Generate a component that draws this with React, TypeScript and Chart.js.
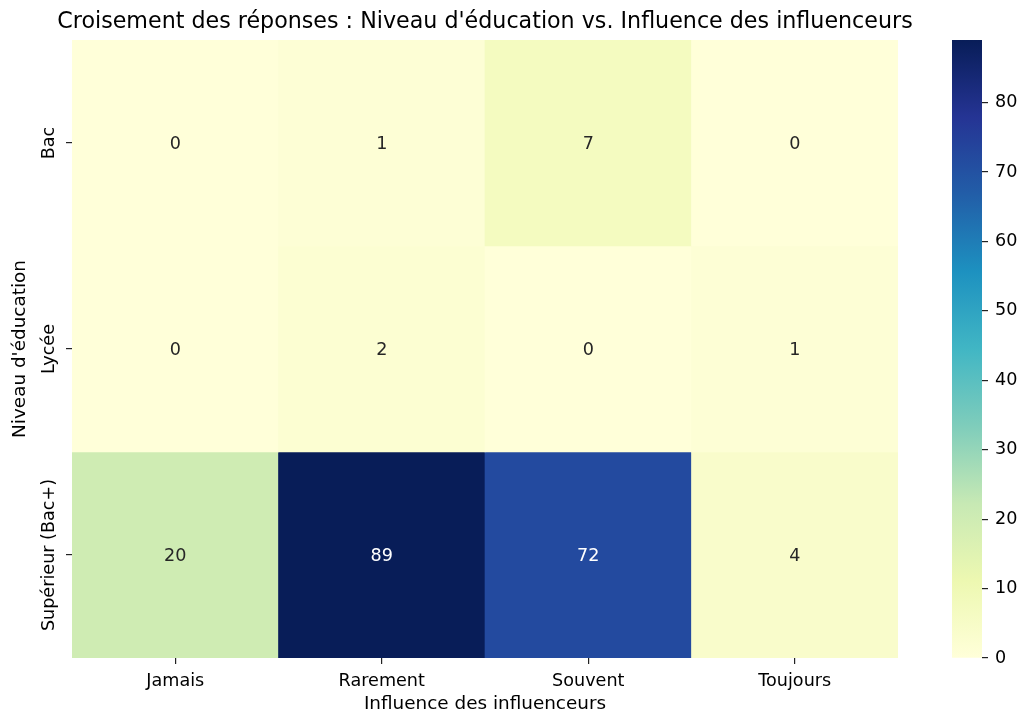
import React, { useEffect, useRef } from "react";
import { Chart, registerables } from "chart.js";

Chart.register(...registerables);

// ---- Data ----
const columns = ["Jamais", "Rarement", "Souvent", "Toujours"];
const rows = ["Bac", "Lycée", "Supérieur (Bac+)"];
const bacValues = [0, 1, 7, 0];
const lyceeValues = [0, 2, 0, 1];
const superieurValues = [20, 89, 72, 4];
const colorbarTicks = [0, 10, 20, 30, 40, 50, 60, 70, 80];
const vmin = 0;
const vmax = 89;

const titleText = "Croisement des réponses : Niveau d'éducation vs. Influence des influenceurs";
const xTitle = "Influence des influenceurs";
const yTitle = "Niveau d'éducation";

// YlGnBu colormap (ColorBrewer 9-class)
const palette = ["#ffffd9", "#edf8b1", "#c7e9b4", "#7fcdbb", "#41b6c4", "#1d91c0", "#225ea8", "#253494", "#081d58"];

const FONT = "'DejaVu Sans', sans-serif";
const FS = 17.6;
const FS_AXIS = 18.4;
const FS_TITLE = 22.2;

function hexToRgb(h: string): number[] {
  const n = parseInt(h.slice(1), 16);
  return [(n >> 16) & 255, (n >> 8) & 255, n & 255];
}

function colorRgb(v: number): number[] {
  let t = (v - vmin) / (vmax - vmin);
  t = Math.max(0, Math.min(1, t));
  const pos = t * (palette.length - 1);
  const i = Math.min(Math.floor(pos), palette.length - 2);
  const f = pos - i;
  const a = hexToRgb(palette[i]);
  const b = hexToRgb(palette[i + 1]);
  return [0, 1, 2].map((k) => Math.round(a[k] + (b[k] - a[k]) * f));
}

function colorFor(v: number): string {
  const c = colorRgb(v);
  return `rgb(${c[0]},${c[1]},${c[2]})`;
}

function textColorFor(v: number): string {
  const c = colorRgb(v).map((x) => {
    const s = x / 255;
    return s <= 0.03928 ? s / 12.92 : Math.pow((s + 0.055) / 1.055, 2.4);
  });
  const l = 0.2126 * c[0] + 0.7152 * c[1] + 0.0722 * c[2];
  return l > 0.408 ? "#262626" : "#ffffff";
}

const matrix = [bacValues, lyceeValues, superieurValues];

const cellLabelsPlugin = {
  id: "cellLabels",
  afterDatasetsDraw(chart: any) {
    const ctx = chart.ctx;
    ctx.save();
    ctx.font = `${FS}px ${FONT}`;
    ctx.textAlign = "center";
    ctx.textBaseline = "middle";
    chart.data.datasets.forEach((ds: any, r: number) => {
      const meta = chart.getDatasetMeta(r);
      meta.data.forEach((el: any, c: number) => {
        const p = el.getProps(["x", "y", "base"], true);
        const v = matrix[r][c];
        ctx.fillStyle = textColorFor(v);
        ctx.fillText(String(v), p.x, (p.y + p.base) / 2 + 1);
      });
    });
    ctx.restore();
  },
};

const textPlugin = {
  id: "heatText",
  afterDraw(chart: any) {
    const ctx = chart.ctx;
    const ys = chart.scales.y;
    const area = chart.chartArea;
    ctx.save();
    // title centred over the heatmap
    ctx.font = `${FS_TITLE}px ${FONT}`;
    ctx.fillStyle = "#000";
    ctx.textAlign = "center";
    ctx.textBaseline = "middle";
    ctx.fillText(titleText, (area.left + area.right) / 2, 22.5);
    // rotated row labels
    ctx.font = `${FS}px ${FONT}`;
    rows.forEach((label, i) => {
      const y = ys.getPixelForValue(i + 0.5);
      ctx.save();
      ctx.translate(49.5, y);
      ctx.rotate(-Math.PI / 2);
      ctx.fillText(label, 0, 0);
      ctx.restore();
    });
    ctx.restore();
  },
};

export default function App() {
  const mainRef = useRef<HTMLCanvasElement>(null);
  const barRef = useRef<HTMLCanvasElement>(null);

  useEffect(() => {
    Chart.defaults.font.family = FONT;
    const main = new Chart(mainRef.current as HTMLCanvasElement, {
      type: "bar",
      data: {
        labels: columns,
        datasets: matrix.map((vals, r) => ({
          label: rows[r],
          data: vals.map(() => [r, r + 1]),
          backgroundColor: vals.map(colorFor),
          borderWidth: 0,
          barPercentage: 1,
          categoryPercentage: 1,
          grouped: false,
        })) as any,
      },
      options: {
        animation: false,
        responsive: false,
        devicePixelRatio: 1,
        layout: { padding: { left: 0, right: 32, top: 40, bottom: 0 } },
        plugins: {
          legend: { display: false },
          tooltip: { enabled: false },
          title: { display: false },
        },
        scales: {
          x: {
            type: "category",
            offset: true,
            grid: { offset: false, drawOnChartArea: false, drawTicks: true, tickLength: 6, color: "#222", lineWidth: 1.2 },
            border: { display: false },
            ticks: { font: { size: FS, family: FONT }, color: "#000", padding: 7, maxRotation: 0 },
            title: {
              display: true,
              text: xTitle,
              color: "#000",
              font: { size: FS_AXIS, family: FONT },
              padding: { top: 0, bottom: 0.5 },
            },
            afterFit: (s: any) => {
              s.height = 58;
            },
          },
          y: {
            type: "linear",
            min: 0,
            max: 3,
            reverse: true,
            afterBuildTicks: (s: any) => {
              s.ticks = rows.map((_, i) => ({ value: i + 0.5 }));
            },
            ticks: { display: false },
            grid: { drawOnChartArea: false, drawTicks: true, tickLength: 6, color: "#222", lineWidth: 1.2 },
            border: { display: false },
            title: {
              display: true,
              text: yTitle,
              color: "#000",
              font: { size: FS_AXIS, family: FONT },
              padding: { top: 9, bottom: 0 },
            },
            afterFit: (s: any) => {
              s.width = 72;
            },
          },
        },
      } as any,
      plugins: [cellLabelsPlugin, textPlugin],
    });

    const bar = new Chart(barRef.current as HTMLCanvasElement, {
      type: "bar",
      data: {
        labels: [""],
        datasets: [
          {
            data: [[vmin, vmax]] as any,
            backgroundColor: (c: any) => {
              const chart = c.chart;
              const ys = chart.scales.y;
              if (!chart.chartArea || !ys) return palette[0];
              const g = chart.ctx.createLinearGradient(0, ys.getPixelForValue(vmin), 0, ys.getPixelForValue(vmax));
              palette.forEach((col, i) => g.addColorStop(i / (palette.length - 1), col));
              return g;
            },
            borderWidth: 0,
            barPercentage: 1,
            categoryPercentage: 1,
          },
        ],
      },
      options: {
        animation: false,
        responsive: false,
        devicePixelRatio: 1,
        layout: { padding: { left: 22, right: 0, top: 40, bottom: 58 } },
        plugins: { legend: { display: false }, tooltip: { enabled: false } },
        scales: {
          x: { display: false },
          y: {
            position: "right",
            min: vmin,
            max: vmax,
            afterBuildTicks: (s: any) => {
              s.ticks = colorbarTicks.map((v) => ({ value: v }));
            },
            ticks: { font: { size: FS, family: FONT }, color: "#000", padding: 7 },
            grid: { drawOnChartArea: false, drawTicks: true, tickLength: 6, color: "#222", lineWidth: 1.2 },
            border: { display: false },
            afterFit: (s: any) => {
              s.width = 38;
            },
          },
        },
      } as any,
    });

    return () => {
      main.destroy();
      bar.destroy();
    };
  }, []);

  return (
    <div style={{ position: "absolute", left: 0, top: 0, width: 1020, height: 716, background: "#fff" }}>
      <canvas ref={mainRef} width={930} height={716} style={{ position: "absolute", left: 0, top: 0 }} />
      <canvas ref={barRef} width={90} height={716} style={{ position: "absolute", left: 930, top: 0 }} />
    </div>
  );
}
